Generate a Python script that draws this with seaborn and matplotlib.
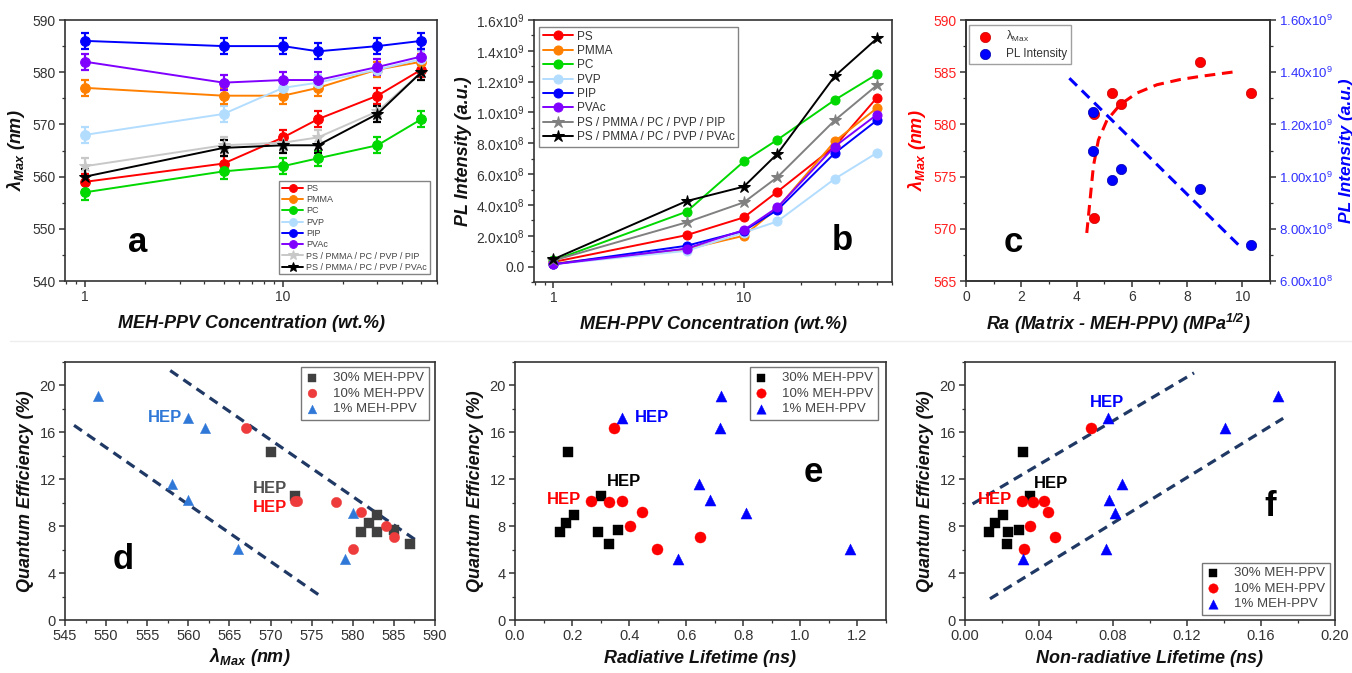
import matplotlib
matplotlib.use("Agg")
import matplotlib.pyplot as plt
import seaborn as sns
from matplotlib.ticker import MultipleLocator, FixedLocator, FixedFormatter, NullFormatter, LogLocator

# ---- data ----
conc = [1, 5, 10, 15, 30, 50]
names = ['PS', 'PMMA', 'PC', 'PVP', 'PIP', 'PVAc',
         'PS / PMMA / PC / PVP / PIP', 'PS / PMMA / PC / PVP / PVAc']

# panel a: lambda max (nm)
lam_ps = [559, 562.5, 567.5, 571, 575.5, 580.5]
lam_pmma = [577, 575.5, 575.5, 577, 580.5, 582]
lam_pc = [557, 561, 562, 563.5, 566, 571]
lam_pvp = [568, 572, 577, 578, 580.5, 582.5]
lam_pip = [586, 585, 585, 584, 585, 586]
lam_pvac = [582, 578, 578.5, 578.5, 581, 583]
lam_mix1 = [562, 566, 566.5, 567.5, 572.5, 580]
lam_mix2 = [560, 565.5, 566, 566, 572, 580]
lam_err = [1.5, 1.5, 1.5, 1.5, 1.5, 1.5]

# panel b: PL intensity (x1e9)
pl_ps = [0.03, 0.204, 0.319, 0.486, 0.78, 1.096]
pl_pmma = [0.02, 0.113, 0.20, 0.38, 0.812, 1.029]
pl_pc = [0.04, 0.356, 0.682, 0.823, 1.081, 1.248]
pl_pvp = [0.015, 0.102, 0.221, 0.293, 0.569, 0.738]
pl_pip = [0.015, 0.135, 0.232, 0.367, 0.736, 0.949]
pl_pvac = [0.015, 0.117, 0.237, 0.384, 0.779, 0.986]
pl_mix1 = [0.04, 0.287, 0.417, 0.58, 0.949, 1.177]
pl_mix2 = [0.048, 0.425, 0.519, 0.732, 1.235, 1.48]

# panel c
ra = [4.62, 5.28, 5.6, 8.45, 10.3, 4.62]
ra_lam = [581, 583, 582, 586, 583, 571]
ra_pl_x = [4.6, 4.6, 5.28, 5.6, 8.45, 10.3]
ra_pl = [1.246e9, 1.098e9, 0.987e9, 1.029e9, 0.951e9, 0.738e9]
fit_lam_x = [4.37, 4.49, 4.61, 4.79, 5.10, 5.58, 6.18, 6.91, 7.75, 8.48, 9.75]
fit_lam_y = [569.6, 572.8, 576.0, 578.5, 580.4, 581.9, 583.0, 583.8, 584.3, 584.6, 585.05]
fit_pl_x = [3.74, 9.93]
fit_pl_y = [1.377e9, 0.731e9]

# panels d, e, f: quantum efficiency (%)
qe30 = [14.3, 10.55, 7.5, 8.26, 8.97, 7.5, 7.64, 6.48]
lam30 = [570, 573, 581, 582, 583, 583, 585, 587]
rad30 = [0.187, 0.301, 0.158, 0.179, 0.208, 0.292, 0.360, 0.329]
nrad30 = [0.0312, 0.0354, 0.0128, 0.0162, 0.0204, 0.0235, 0.0294, 0.0227]

qe10 = [16.4, 10.18, 10.04, 10.18, 9.19, 7.98, 6.05, 7.07]
lam10 = [567, 573, 578, 573.2, 581, 584, 580, 585]
rad10 = [0.347, 0.268, 0.329, 0.376, 0.446, 0.403, 0.498, 0.648]
nrad10 = [0.0679, 0.0309, 0.037, 0.0429, 0.0451, 0.0352, 0.0321, 0.0489]

qe1 = [19.09, 17.2, 16.4, 11.6, 10.24, 9.11, 6.05, 5.23]
lam1 = [549, 560, 562, 558, 560, 580, 566, 579]
rad1 = [0.721, 0.376, 0.718, 0.645, 0.683, 0.811, 1.175, 0.572]
nrad1 = [0.1693, 0.0772, 0.1404, 0.085, 0.0781, 0.0812, 0.0763, 0.0312]

d_line1_x, d_line1_y = [546.1, 576.2], [16.6, 1.98]
d_line2_x, d_line2_y = [557.8, 588.0], [21.27, 6.65]
f_line1_x, f_line1_y = [0.0041, 0.1238], [9.9, 21.07]
f_line2_x, f_line2_y = [0.0135, 0.172], [1.81, 17.2]

# ---- style ----
sns.set_theme(style="ticks")
plt.rcParams['font.family'] = ['Liberation Sans', 'DejaVu Sans']
plt.rcParams['mathtext.fontset'] = 'custom'
plt.rcParams['mathtext.rm'] = 'Liberation Sans'
plt.rcParams['mathtext.it'] = 'Liberation Sans:italic'
plt.rcParams['mathtext.bf'] = 'Liberation Sans:bold:italic'
plt.rcParams['xtick.direction'] = 'out'
plt.rcParams['ytick.direction'] = 'out'

W, H = 1352, 673
fig = plt.figure(figsize=(W / 100, H / 100), dpi=100)
fig.patch.set_facecolor('white')


def axes_px(x0, y0, x1, y1):
    return fig.add_axes([x0 / W, 1 - y1 / H, (x1 - x0) / W, (y1 - y0) / H])


def frame(ax, size=10):
    for s in ax.spines.values():
        s.set_visible(True)
        s.set_color('#333333')
        s.set_linewidth(1.2)
    ax.tick_params(which='major', length=4.5, width=1.1, color='#333333',
                   labelsize=size, labelcolor='#333333', pad=2)
    ax.tick_params(which='minor', length=2.5, width=0.9, color='#333333')
    ax.grid(False)


lab_kw = dict(fontsize=13, fontweight='bold', fontstyle='italic', color='#111111')
letter_kw = dict(fontsize=25, fontweight='bold', ha='center', va='center', color='black')
hep_kw = dict(fontsize=12, fontweight='bold', va='center')

cols_a = ['#FF0000', '#FF8000', '#00D800', '#B3DDFF', '#0000FF', '#8000FF', '#C8C8C8', '#000000']
cols_b = ['#FF0000', '#FF8000', '#00D800', '#B3DDFF', '#0000FF', '#8000FF', '#808080', '#000000']
markers = ['o', 'o', 'o', 'o', 'o', 'o', '*', '*']


def log_x(ax):
    ax.set_xscale('log')
    ax.set_xlim(0.79, 60)
    ax.xaxis.set_major_locator(FixedLocator([1, 10]))
    ax.xaxis.set_major_formatter(FixedFormatter(['1', '10']))
    ax.xaxis.set_minor_locator(LogLocator(base=10, subs=range(2, 10)))
    ax.xaxis.set_minor_formatter(NullFormatter())


# ---- panel a ----
ax = axes_px(65, 20, 437, 281)
frame(ax)
lam_all = [lam_ps, lam_pmma, lam_pc, lam_pvp, lam_pip, lam_pvac, lam_mix1, lam_mix2]
order = [3, 6, 2, 0, 1, 5, 4, 7]
for i in order:
    ax.errorbar(conc, lam_all[i], yerr=lam_err, fmt='none', ecolor=cols_a[i],
                elinewidth=1.6, capsize=3, capthick=1.6, zorder=2)
for i in range(8):
    sns.lineplot(x=conc, y=lam_all[i], ax=ax, color=cols_a[i], marker=markers[i],
                 markersize=7 if markers[i] == 'o' else 9, markeredgecolor=cols_a[i],
                 linewidth=1.4, label=names[i], zorder=3)
log_x(ax)
ax.set_ylim(540, 590)
ax.yaxis.set_major_locator(MultipleLocator(10))
ax.yaxis.set_minor_locator(MultipleLocator(5))
ax.set_xlabel('MEH-PPV Concentration (wt.%)', labelpad=8, **lab_kw)
ax.set_ylabel('λ$_{\\mathbf{Max}}$ (nm)', labelpad=4, **lab_kw)
leg = ax.legend(loc='lower right', bbox_to_anchor=(0.98, 0.025), borderaxespad=0,
                fontsize=6.5, frameon=True, fancybox=False, edgecolor='#666666',
                handlelength=2.4, handletextpad=0.3, labelspacing=0.25, borderpad=0.3,
                markerscale=0.8)
leg.get_frame().set_linewidth(1.0)
for t in leg.get_texts():
    t.set_color('#444444')
ax.text(0.194, 0.149, 'a', transform=ax.transAxes, **letter_kw)

# ---- panel b ----
ax = axes_px(534, 20, 892, 282)
frame(ax)
pl_all = [pl_ps, pl_pmma, pl_pc, pl_pvp, pl_pip, pl_pvac, pl_mix1, pl_mix2]
for i in range(8):
    sns.lineplot(x=conc, y=[v * 1e9 for v in pl_all[i]], ax=ax, color=cols_b[i],
                 marker=markers[i], markersize=6.5 if markers[i] == 'o' else 9,
                 markeredgecolor=cols_b[i], linewidth=1.4, label=names[i])
log_x(ax)
ax.set_ylim(-0.1e9, 1.6e9)
b_ticks = [0, 0.2e9, 0.4e9, 0.6e9, 0.8e9, 1.0e9, 1.2e9, 1.4e9, 1.6e9]
b_labels = ['0.0', '2.0x10$^{8}$', '4.0x10$^{8}$', '6.0x10$^{8}$', '8.0x10$^{8}$',
            '1.0x10$^{9}$', '1.2x10$^{9}$', '1.4x10$^{9}$', '1.6x10$^{9}$']
ax.yaxis.set_major_locator(FixedLocator(b_ticks))
ax.yaxis.set_major_formatter(FixedFormatter(b_labels))
ax.yaxis.set_minor_locator(MultipleLocator(0.1e9))
ax.set_xlabel('MEH-PPV Concentration (wt.%)', labelpad=8, **lab_kw)
ax.set_ylabel('PL Intensity (a.u.)', labelpad=3, **lab_kw)
leg = ax.legend(loc='upper left', bbox_to_anchor=(0.014, 0.973), borderaxespad=0,
                fontsize=8.5, frameon=True, fancybox=False, edgecolor='#666666',
                handlelength=2.6, handletextpad=0.3, labelspacing=0.2, borderpad=0.3)
leg.get_frame().set_linewidth(1.0)
for t in leg.get_texts():
    t.set_color('#333333')
ax.text(0.86, 0.16, 'b', transform=ax.transAxes, **letter_kw)

# ---- panel c ----
ax = axes_px(966, 20, 1270, 281)
frame(ax)
ax2 = ax.twinx()
frame(ax2, size=9.5)
ax.plot(fit_lam_x, fit_lam_y, color='#FF0000', lw=2.2, ls=(0, (3.5, 2.2)), zorder=2)
ax2.plot(fit_pl_x, fit_pl_y, color='#0000FF', lw=2.2, ls=(0, (3.5, 2.2)), zorder=2)
sns.scatterplot(x=ra, y=ra_lam, ax=ax, color='#FF0000', s=55, edgecolor='#CC0000',
                linewidth=0.5, label='λ$_{\\mathrm{Max}}$', zorder=3)
sns.scatterplot(x=ra_pl_x, y=ra_pl, ax=ax2, color='#0000FF', s=55, edgecolor='#0000AA',
                linewidth=0.5, label='PL Intensity', zorder=3)
ax.set_xlim(0, 11)
ax.xaxis.set_major_locator(MultipleLocator(2))
ax.xaxis.set_minor_locator(MultipleLocator(1))
ax.set_ylim(565, 590)
ax.yaxis.set_major_locator(MultipleLocator(5))
ax.yaxis.set_minor_locator(MultipleLocator(2.5))
ax.tick_params(axis='y', which='both', labelcolor='#FF2020')
ax2.set_ylim(6e8, 1.6e9)
c_ticks = [6e8, 8e8, 1.0e9, 1.2e9, 1.4e9, 1.6e9]
c_labels = ['6.00x10$^{8}$', '8.00x10$^{8}$', '1.00x10$^{9}$', '1.20x10$^{9}$',
            '1.40x10$^{9}$', '1.60x10$^{9}$']
ax2.yaxis.set_major_locator(FixedLocator(c_ticks))
ax2.yaxis.set_major_formatter(FixedFormatter(c_labels))
ax2.yaxis.set_minor_locator(MultipleLocator(1e8))
ax2.tick_params(axis='y', which='both', labelcolor='#3030FF')
ax.set_xlabel('Ra (Matrix - MEH-PPV) (MPa$^{\\mathbf{1/2}}$)', labelpad=6, **lab_kw)
ax.set_ylabel('λ$_{\\mathbf{Max}}$ (nm)', labelpad=4, **{**lab_kw, 'color': '#FF0000'})
ax2.set_ylabel('PL Intensity (a.u.)', **{**lab_kw, 'color': '#0000FF', 'fontsize': 12.5})
ax2.yaxis.set_label_coords(1.228, 0.5)
h1, l1 = ax.get_legend_handles_labels()
h2, l2 = ax2.get_legend_handles_labels()
if ax.get_legend():
    ax.get_legend().remove()
leg = ax2.legend(h1 + h2, l1 + l2, loc='upper left', bbox_to_anchor=(0.01, 0.98),
                 borderaxespad=0, fontsize=8.5, frameon=True, fancybox=False,
                 edgecolor='#888888', handletextpad=0.8, labelspacing=0.3, borderpad=0.35)
leg.get_frame().set_linewidth(1.0)
for t in leg.get_texts():
    t.set_color('#333333')
ax.text(0.155, 0.149, 'c', transform=ax.transAxes, **letter_kw)


# ---- panels d, e, f ----
def qe_axes(ax):
    frame(ax, size=10.5)
    ax.set_ylim(0, 22)
    ax.yaxis.set_major_locator(MultipleLocator(4))
    ax.yaxis.set_minor_locator(MultipleLocator(2))
    ax.set_ylabel('Quantum Efficiency (%)', labelpad=4, **lab_kw)


def qe_scatter(ax, x30, x10, x1, cols, size):
    sns.scatterplot(x=x30, y=qe30, ax=ax, marker='s', color=cols[0], s=size,
                    edgecolor=cols[0], linewidth=0.3, label='30% MEH-PPV', zorder=3)
    sns.scatterplot(x=x10, y=qe10, ax=ax, marker='o', color=cols[1], s=size * 1.15,
                    edgecolor=cols[1], linewidth=0.3, label='10% MEH-PPV', zorder=3)
    sns.scatterplot(x=x1, y=qe1, ax=ax, marker='^', color=cols[2], s=size * 1.15,
                    edgecolor=cols[2], linewidth=0.3, label='1% MEH-PPV', zorder=3)


def qe_legend(ax, loc, anchor):
    leg = ax.legend(loc=loc, bbox_to_anchor=anchor, borderaxespad=0, fontsize=9.5,
                    frameon=True, fancybox=False, edgecolor='#555555',
                    handlelength=1.0, handletextpad=1.1, labelspacing=0.25,
                    borderpad=0.35, markerscale=0.85)
    leg.get_frame().set_linewidth(1.0)
    for t in leg.get_texts():
        t.set_color('#444444')


navy = '#1F3864'
dash = (0, (3.0, 2.0))

# d
ax = axes_px(65, 362, 435, 620)
qe_axes(ax)
cols_d = ['#404040', '#EE3B3B', '#2F78D8']
ax.plot(d_line1_x, d_line1_y, color=navy, lw=2.3, ls=dash, zorder=2)
ax.plot(d_line2_x, d_line2_y, color=navy, lw=2.3, ls=dash, zorder=2)
qe_scatter(ax, lam30, lam10, lam1, cols_d, 48)
ax.set_xlim(545, 590)
ax.xaxis.set_major_locator(MultipleLocator(5))
ax.xaxis.set_minor_locator(MultipleLocator(2.5))
ax.set_xlabel('λ$_{\\mathbf{Max}}$ (nm)', labelpad=2, **lab_kw)
qe_legend(ax, 'upper right', (0.984, 0.98))
ax.text(559.3, 17.3, 'HEP', ha='right', color=cols_d[2], **hep_kw)
ax.text(567.8, 11.2, 'HEP', ha='left', color='#505050', **hep_kw)
ax.text(567.8, 9.6, 'HEP', ha='left', color='#FF1010', **hep_kw)
ax.text(0.157, 0.233, 'd', transform=ax.transAxes, **letter_kw)

# e
ax = axes_px(515, 362, 886, 620)
qe_axes(ax)
cols_e = ['#000000', '#FF0000', '#0000FF']
qe_scatter(ax, rad30, rad10, rad1, cols_e, 55)
ax.set_xlim(0, 1.3)
ax.xaxis.set_major_locator(FixedLocator([0, 0.2, 0.4, 0.6, 0.8, 1.0, 1.2]))
ax.xaxis.set_major_formatter(FixedFormatter(['0.0', '0.2', '0.4', '0.6', '0.8', '1.0', '1.2']))
ax.xaxis.set_minor_locator(MultipleLocator(0.1))
ax.set_xlabel('Radiative Lifetime (ns)', labelpad=5, **lab_kw)
qe_legend(ax, 'upper right', (0.978, 0.98))
ax.text(0.42, 17.3, 'HEP', ha='left', color='#0000FF', **hep_kw)
ax.text(0.322, 11.8, 'HEP', ha='left', color='#000000', **hep_kw)
ax.text(0.112, 10.27, 'HEP', ha='left', color='#FF0000', **hep_kw)
ax.text(0.803, 0.57, 'e', transform=ax.transAxes, **letter_kw)

# f
ax = axes_px(965, 362, 1335, 620)
qe_axes(ax)
ax.plot(f_line1_x, f_line1_y, color=navy, lw=2.3, ls=dash, zorder=2)
ax.plot(f_line2_x, f_line2_y, color=navy, lw=2.3, ls=dash, zorder=2)
qe_scatter(ax, nrad30, nrad10, nrad1, cols_e, 55)
ax.set_xlim(0, 0.2)
ax.xaxis.set_major_locator(FixedLocator([0, 0.04, 0.08, 0.12, 0.16, 0.20]))
ax.xaxis.set_major_formatter(FixedFormatter(['0.00', '0.04', '0.08', '0.12', '0.16', '0.20']))
ax.xaxis.set_minor_locator(MultipleLocator(0.02))
ax.set_xlabel('Non-radiative Lifetime (ns)', labelpad=5, **lab_kw)
qe_legend(ax, 'lower right', (0.986, 0.019))
ax.text(0.0673, 18.53, 'HEP', ha='left', color='#0000FF', **hep_kw)
ax.text(0.037, 11.65, 'HEP', ha='left', color='#000000', **hep_kw)
ax.text(0.0072, 10.27, 'HEP', ha='left', color='#FF0000', **hep_kw)
ax.text(0.824, 0.438, 'f', transform=ax.transAxes, **letter_kw)

# faint separator between rows
fig.add_artist(plt.Line2D([10 / W, 1.0], [1 - 341 / H, 1 - 341 / H], color='#EEEEEE', lw=1))

fig.savefig('out.png', dpi=100, facecolor='white')
